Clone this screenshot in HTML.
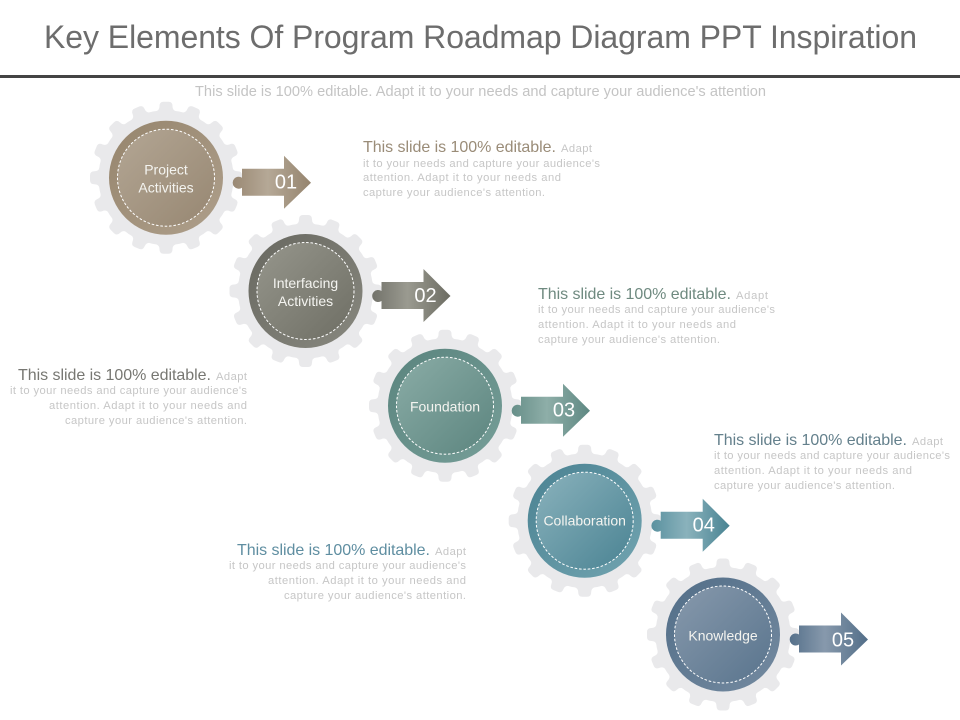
<!DOCTYPE html>
<html><head><meta charset="utf-8"><style>
html,body{margin:0;padding:0;background:#fff;width:960px;height:720px;overflow:hidden}
svg{display:block}
text{font-family:"Liberation Sans",sans-serif}
.h{font-size:16px}
.s{font-size:11.2px;fill:#c6c6c6}
.n{font-size:14px;fill:#f4f4f0}
.b{font-size:20px;fill:#fff}
.d{stroke:#fff;stroke-width:1;stroke-dasharray:2.6 1.8}
</style></head><body>
<svg width="960" height="720" viewBox="0 0 960 720" xmlns="http://www.w3.org/2000/svg">
<defs>
<path id="t" d="M-10,-66.5 Q-6.5,-67.5 -6.5,-71.5 Q-6.5,-76 -2.5,-76 H2.5 Q6.5,-76 6.5,-71.5 Q6.5,-67.5 10,-66.5Z" fill="#e9e9eb"/>
<g id="gear">
<circle r="67.5" fill="#e9e9eb"/>
<use href="#t"/><use href="#t" transform="rotate(22.5)"/><use href="#t" transform="rotate(45)"/><use href="#t" transform="rotate(67.5)"/>
<use href="#t" transform="rotate(90)"/><use href="#t" transform="rotate(112.5)"/><use href="#t" transform="rotate(135)"/><use href="#t" transform="rotate(157.5)"/>
<use href="#t" transform="rotate(180)"/><use href="#t" transform="rotate(202.5)"/><use href="#t" transform="rotate(225)"/><use href="#t" transform="rotate(247.5)"/>
<use href="#t" transform="rotate(270)"/><use href="#t" transform="rotate(292.5)"/><use href="#t" transform="rotate(315)"/><use href="#t" transform="rotate(337.5)"/>
</g>
<path id="arr" d="M76,-9H118V-22L145,5L118,31V18H76V10A6,6 0 1 1 76,0Z"/>
<linearGradient id="o1" x1="0" y1="0" x2="1" y2="1"><stop offset="0" stop-color="#96856d"/><stop offset="1" stop-color="#ae9f8b"/></linearGradient>
<linearGradient id="i1" x1="0" y1="0" x2="1" y2="1"><stop offset="0" stop-color="#b3a694"/><stop offset="1" stop-color="#978772"/></linearGradient>
<linearGradient id="a1"><stop offset="0" stop-color="#9a8974"/><stop offset=".45" stop-color="#b5a896"/><stop offset="1" stop-color="#95846e"/></linearGradient>
<linearGradient id="o2" x1="0" y1="0" x2="1" y2="1"><stop offset="0" stop-color="#686860"/><stop offset="1" stop-color="#88887f"/></linearGradient>
<linearGradient id="i2" x1="0" y1="0" x2="1" y2="1"><stop offset="0" stop-color="#96968c"/><stop offset="1" stop-color="#6e6e64"/></linearGradient>
<linearGradient id="a2"><stop offset="0" stop-color="#72726a"/><stop offset=".45" stop-color="#9a9a90"/><stop offset="1" stop-color="#6c6c62"/></linearGradient>
<linearGradient id="o3" x1="0" y1="0" x2="1" y2="1"><stop offset="0" stop-color="#5a847e"/><stop offset="1" stop-color="#769e98"/></linearGradient>
<linearGradient id="i3" x1="0" y1="0" x2="1" y2="1"><stop offset="0" stop-color="#8aaca6"/><stop offset="1" stop-color="#5c857f"/></linearGradient>
<linearGradient id="a3"><stop offset="0" stop-color="#678f89"/><stop offset=".45" stop-color="#8eaea8"/><stop offset="1" stop-color="#5e8882"/></linearGradient>
<linearGradient id="o4" x1="0" y1="0" x2="1" y2="1"><stop offset="0" stop-color="#4a8292"/><stop offset="1" stop-color="#72a4b0"/></linearGradient>
<linearGradient id="i4" x1="0" y1="0" x2="1" y2="1"><stop offset="0" stop-color="#8ab2bc"/><stop offset="1" stop-color="#4a8393"/></linearGradient>
<linearGradient id="a4"><stop offset="0" stop-color="#5a919f"/><stop offset=".45" stop-color="#8ab2bc"/><stop offset="1" stop-color="#488392"/></linearGradient>
<linearGradient id="o5" x1="0" y1="0" x2="1" y2="1"><stop offset="0" stop-color="#526e88"/><stop offset="1" stop-color="#748aa0"/></linearGradient>
<linearGradient id="i5" x1="0" y1="0" x2="1" y2="1"><stop offset="0" stop-color="#8799ac"/><stop offset="1" stop-color="#59748d"/></linearGradient>
<linearGradient id="a5"><stop offset="0" stop-color="#56718b"/><stop offset=".45" stop-color="#8799ac"/><stop offset="1" stop-color="#526e88"/></linearGradient>
</defs>

<text x="44" y="48" font-size="32" fill="#6d6d6d" textLength="873" lengthAdjust="spacing">Key Elements Of Program Roadmap Diagram PPT Inspiration</text>
<rect x="0" y="75" width="960" height="3" fill="#444"/>
<text x="195" y="96" font-size="14.6" fill="#c4c4c4" textLength="571" lengthAdjust="spacing">This slide is 100% editable. Adapt it to your needs and capture your audience's attention</text>

<g transform="translate(166,177.7)">
<use href="#gear"/><use href="#arr" fill="url(#a1)"/>
<circle r="57" fill="url(#o1)"/><circle r="48.5" fill="url(#i1)" class="d"/>
<text class="n" y="-3" text-anchor="middle">Project</text><text class="n" y="15" text-anchor="middle">Activities</text>
<text class="b" x="120" y="11" text-anchor="middle">01</text></g>

<g transform="translate(305.5,291)">
<use href="#gear"/><use href="#arr" fill="url(#a2)"/>
<circle r="57" fill="url(#o2)"/><circle r="48.5" fill="url(#i2)" class="d"/>
<text class="n" y="-3" text-anchor="middle">Interfacing</text><text class="n" y="15" text-anchor="middle">Activities</text>
<text class="b" x="120" y="11" text-anchor="middle">02</text></g>

<g transform="translate(445,405.7)">
<use href="#gear"/><use href="#arr" fill="url(#a3)"/>
<circle r="57" fill="url(#o3)"/><circle r="48.5" fill="url(#i3)" class="d"/>
<text class="n" y="6" text-anchor="middle">Foundation</text>
<text class="b" x="119" y="11" text-anchor="middle">03</text></g>

<g transform="translate(584.7,520.7)">
<use href="#gear"/><use href="#arr" fill="url(#a4)"/>
<circle r="57" fill="url(#o4)"/><circle r="48.5" fill="url(#i4)" class="d"/>
<text class="n" y="5" text-anchor="middle">Collaboration</text>
<text class="b" x="119" y="11" text-anchor="middle">04</text></g>

<g transform="translate(723,634.5)">
<use href="#gear"/><use href="#arr" fill="url(#a5)"/>
<circle r="57" fill="url(#o5)"/><circle r="48.5" fill="url(#i5)" class="d"/>
<text class="n" y="6" text-anchor="middle">Knowledge</text>
<text class="b" x="120" y="12" text-anchor="middle">05</text></g>

<text class="h" x="363" y="152" fill="#9a8c78" textLength="193" lengthAdjust="spacing">This slide is 100% editable.</text>
<text class="s" x="561" y="152" textLength="31" lengthAdjust="spacing">Adapt</text>
<text class="s" x="363" y="167" textLength="237" lengthAdjust="spacing">it to your needs and capture your audience's</text>
<text class="s" x="363" y="181" textLength="198" lengthAdjust="spacing">attention.  Adapt it to your needs and</text>
<text class="s" x="363" y="196" textLength="182" lengthAdjust="spacing">capture your audience's attention.</text>

<text class="h" x="538" y="299" fill="#6f8a80" textLength="193" lengthAdjust="spacing">This slide is 100% editable.</text>
<text class="s" x="736" y="299" textLength="32" lengthAdjust="spacing">Adapt</text>
<text class="s" x="538" y="313" textLength="237" lengthAdjust="spacing">it to your needs and capture your audience's</text>
<text class="s" x="538" y="328" textLength="198" lengthAdjust="spacing">attention.  Adapt it to your needs and</text>
<text class="s" x="538" y="343" textLength="182" lengthAdjust="spacing">capture your audience's attention.</text>

<text class="h" x="18" y="380" fill="#777772" textLength="193" lengthAdjust="spacing">This slide is 100% editable.</text>
<text class="s" x="216" y="380" textLength="31" lengthAdjust="spacing">Adapt</text>
<text class="s" x="10" y="394" textLength="237" lengthAdjust="spacing">it to your needs and capture your audience's</text>
<text class="s" x="49" y="409" textLength="198" lengthAdjust="spacing">attention.  Adapt it to your needs and</text>
<text class="s" x="65" y="424" textLength="182" lengthAdjust="spacing">capture your audience's attention.</text>

<text class="h" x="714" y="445" fill="#64808c" textLength="193" lengthAdjust="spacing">This slide is 100% editable.</text>
<text class="s" x="912" y="445" textLength="31" lengthAdjust="spacing">Adapt</text>
<text class="s" x="714" y="459" textLength="236" lengthAdjust="spacing">it to your needs and capture your audience's</text>
<text class="s" x="714" y="474" textLength="198" lengthAdjust="spacing">attention.  Adapt it to your needs and</text>
<text class="s" x="714" y="489" textLength="181" lengthAdjust="spacing">capture your audience's attention.</text>

<text class="h" x="237" y="555" fill="#5f8ea1" textLength="193" lengthAdjust="spacing">This slide is 100% editable.</text>
<text class="s" x="435" y="555" textLength="31" lengthAdjust="spacing">Adapt</text>
<text class="s" x="229" y="569" textLength="237" lengthAdjust="spacing">it to your needs and capture your audience's</text>
<text class="s" x="268" y="584" textLength="198" lengthAdjust="spacing">attention.  Adapt it to your needs and</text>
<text class="s" x="284" y="599" textLength="182" lengthAdjust="spacing">capture your audience's attention.</text>
</svg>
</body></html>
